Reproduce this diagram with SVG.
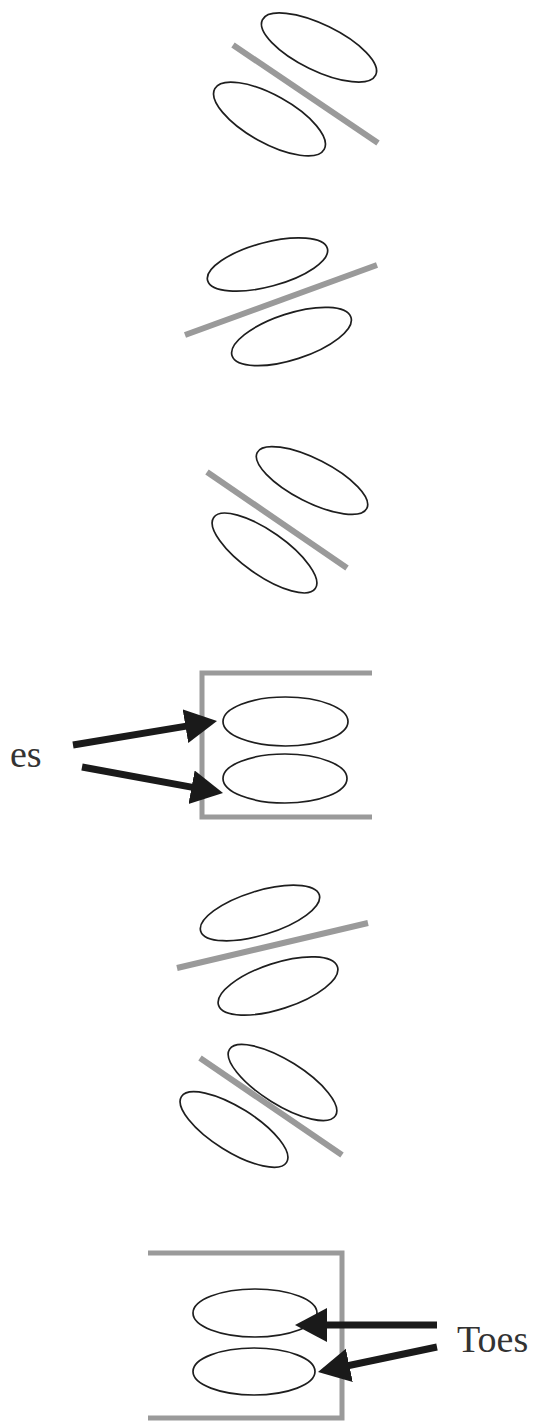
<svg xmlns="http://www.w3.org/2000/svg" width="538" height="1423" viewBox="0 0 538 1423">
<style>
.toe{fill:none;stroke:#1e1e1e;stroke-width:1.7}
.bar{fill:none;stroke:#9a9a9a;stroke-width:6;stroke-linecap:butt}
.box{fill:none;stroke:#9a9a9a;stroke-width:5}
.arr{stroke:#1a1a1a;stroke-width:7;fill:none;marker-end:url(#head)}
.lbl{font-family:"Liberation Serif","Times New Roman",serif;font-size:38px;fill:#333}
</style>
<defs>
<marker id="head" markerUnits="userSpaceOnUse" markerWidth="34" markerHeight="36" refX="4" refY="17" orient="auto" viewBox="0 0 34 36">
<path d="M0,0 L32,17 L0,34 z" fill="#1a1a1a"/>
</marker>
</defs>
<rect width="538" height="1423" fill="#ffffff"/>

<g id="pair1">
<ellipse class="toe" cx="319" cy="47.5" rx="63" ry="23" transform="rotate(26 319 47.5)"/>
<ellipse class="toe" cx="269.5" cy="119" rx="62.5" ry="24" transform="rotate(29 269.5 119)"/>
<line class="bar" x1="233" y1="45" x2="378" y2="143"/>
</g>

<g id="pair2">
<ellipse class="toe" cx="267.5" cy="264.5" rx="62" ry="22" transform="rotate(-15 267.5 264.5)"/>
<ellipse class="toe" cx="291.5" cy="336.5" rx="62.5" ry="23" transform="rotate(-18 291.5 336.5)"/>
<line class="bar" x1="185" y1="335" x2="377" y2="265"/>
</g>

<g id="pair3">
<ellipse class="toe" cx="312" cy="480.5" rx="61.5" ry="21.5" transform="rotate(27 312 480.5)"/>
<ellipse class="toe" cx="264.5" cy="553" rx="62" ry="22" transform="rotate(35 264.5 553)"/>
<line class="bar" x1="207" y1="472" x2="347" y2="568"/>
</g>

<g id="pair4">
<polyline class="box" points="372,673 202,673 202,817 372,817"/>
<ellipse class="toe" cx="285.5" cy="721.5" rx="62.5" ry="24.5"/>
<ellipse class="toe" cx="285" cy="778.5" rx="62" ry="24.5"/>
</g>

<g id="pair5">
<ellipse class="toe" cx="260" cy="913" rx="62" ry="22" transform="rotate(-17 260 913)"/>
<ellipse class="toe" cx="278" cy="986" rx="62.5" ry="23" transform="rotate(-18 278 986)"/>
<line class="bar" x1="177" y1="968" x2="368" y2="923"/>
</g>

<g id="pair6">
<ellipse class="toe" cx="282.5" cy="1082.5" rx="62.5" ry="22" transform="rotate(32 282.5 1082.5)"/>
<ellipse class="toe" cx="234" cy="1129.5" rx="62" ry="22" transform="rotate(32 234 1129.5)"/>
<line class="bar" x1="200" y1="1058" x2="342" y2="1155"/>
</g>

<g id="pair7">
<polyline class="box" points="148,1253 342,1253 342,1418 148,1418"/>
<ellipse class="toe" cx="255" cy="1313" rx="62" ry="24"/>
<ellipse class="toe" cx="254" cy="1371.5" rx="61" ry="23.5"/>
</g>

<g id="label-es">
<text class="lbl" x="10" y="767">es</text>
</g>
<g id="label-toes">
<text class="lbl" x="457" y="1352">Toes</text>
</g>

<g id="connectors">
<line class="arr" x1="73" y1="745" x2="189.4" y2="725.6"/>
<line class="arr" x1="82" y1="767" x2="195.5" y2="787.9"/>
<line class="arr" x1="437" y1="1325" x2="323" y2="1325"/>
<line class="arr" x1="437" y1="1347" x2="345.4" y2="1366.2"/>
</g>
</svg>
